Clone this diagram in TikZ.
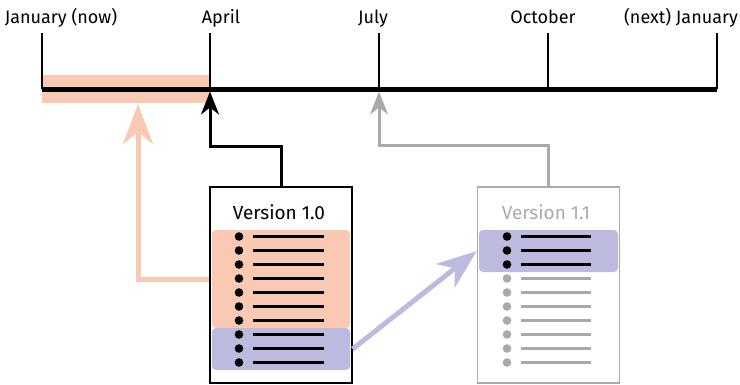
\documentclass[tikz,border=0pt]{standalone}
\usepackage{fontspec}
\setmainfont{Fira Sans}
\usetikzlibrary{arrows.meta,calc}
\definecolor{salmon}{RGB}{250,201,180}
\definecolor{lav}{RGB}{188,187,223}
\definecolor{gry}{RGB}{170,170,170}
\begin{document}
\begin{tikzpicture}[x=1pt,y=-1pt,
  lbl/.style={font=\fontsize{18}{20}\selectfont, anchor=base, inner sep=0},
  ttl/.style={font=\fontsize{19}{21}\selectfont, anchor=base, inner sep=0},
  docbox/.style={draw, line width=1.3, minimum width=142, minimum height=196, inner sep=0},
  hlbox/.style={rounded corners=4, minimum width=138, inner sep=0},
  tickline/.style={line width=1.3},
  bigtip/.style={-{Stealth[length=40pt,width=30pt,inset=12pt]}},
  smalltip/.style={-{Stealth[length=23pt,width=18pt,inset=7pt]}}]
\useasboundingbox (0,0) rectangle (740,384);
% timeline coordinates
\coordinate (t0) at (42,89);
\coordinate (t1) at (210,89);
\coordinate (t2) at (379,89);
\coordinate (t3) at (548,89);
\coordinate (t4) at (717,89);
\coordinate (a1) at (210,91.5);
\coordinate (a2) at (379,91.5);
\coordinate (s1) at (138,104);
% band
\fill[salmon] (42,75) rectangle (210,103);
% ticks
\foreach \i in {0,...,4} { \draw[tickline] (t\i) -- ++(0,-56); }
\draw[line width=5] (t0) -- (t4);
% labels
\node[lbl] (l0) at (61,23) {January (now)};
\node[lbl] (l1) at (221,23) {April};
\node[lbl] (l2) at (373,23) {July};
\node[lbl] (l3) at (543,23) {October};
\node[lbl] (l4) at (681,23) {(next) January};
% boxes
\node[docbox] (v10) at (281,285) {};
\node[docbox, draw=gry] (v11) at (548.5,285) {};
\node[hlbox, fill=salmon, minimum height=98] (hl1) at (281,279) {};
\node[hlbox, fill=lav, minimum height=42] (hl2) at (281,349) {};
\node[hlbox, fill=lav, minimum height=42, minimum width=139] (hl3) at (548.5,251) {};
\node[ttl] (n10) at (279,219.5) {Version 1.0};
\node[ttl, text=gry] (n11) at (546,219.5) {Version 1.1};
% list items
\foreach \k in {0,...,9} {
  \fill (239,236.5+14*\k) circle (4.3);
  \draw[line width=3.2] (253,236.5+14*\k) -- (324,236.5+14*\k);
}
\foreach \k in {0,1,2} {
  \fill (507,236.5+14*\k) circle (4.3);
  \draw[line width=3.2] (521,236.5+14*\k) -- (591,236.5+14*\k);
}
\foreach \k in {3,...,9} {
  \fill[gry] (507,236.5+14*\k) circle (4.3);
  \draw[gry, line width=3.2] (521,236.5+14*\k) -- (591,236.5+14*\k);
}
% connectors
\draw[line width=3, smalltip] (v10.north) -- ++(0,-40) -| (a1);
\draw[gry, line width=3, smalltip] (v11.north) -- ++(0,-41) -| (a2);
\draw[salmon, line width=5, bigtip] (v10.west |- hl1.west) -| (s1);
\draw[lav, line width=5, bigtip] (v10.east |- hl2.east) -- (v11.west |- hl3.west);
\end{tikzpicture}
\end{document}
